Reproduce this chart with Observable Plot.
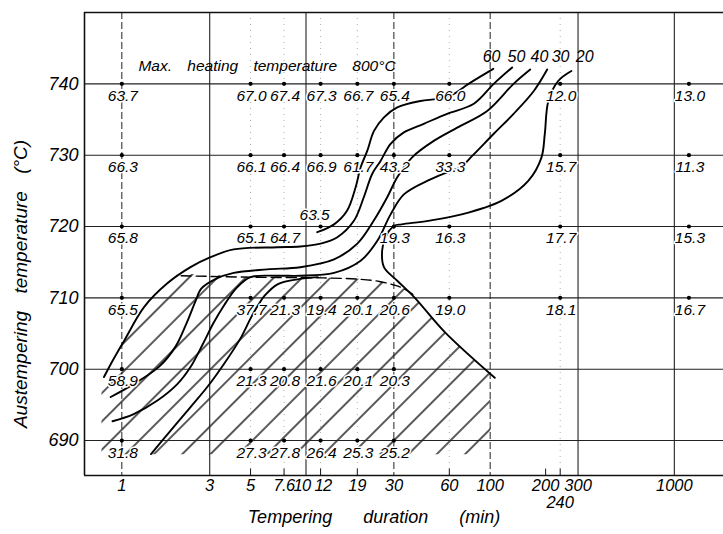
<!DOCTYPE html>
<html><head><meta charset="utf-8">
<script src="https://cdn.jsdelivr.net/npm/d3@7"></script>
<script src="https://cdn.jsdelivr.net/npm/@observablehq/plot@0.6"></script>
<style>
html,body{margin:0;padding:0;background:#fff;}
</style>
</head><body><div id="chart"></div>
<script>
// ---- data ----
const durations = [1, 5, 7.6, 12, 19, 30, 60, 240, 1200];
const temperatures = [740, 730, 720, 710, 700, 690];
const values740 = [63.7, 67.0, 67.4, 67.3, 66.7, 65.4, 66.0, 12.0, 13.0];
const values730 = [66.3, 66.1, 66.4, 66.9, 61.7, 43.2, 33.3, 15.7, 11.3];
const values720 = [65.8, 65.1, 64.7, 63.5, null, 19.3, 16.3, 17.7, 15.3];
const values710 = [65.5, 37.7, 21.3, 19.4, 20.1, 20.6, 19.0, 18.1, 16.7];
const values700 = [58.9, 21.3, 20.8, 21.6, 20.1, 20.3, null, null, null];
const values690 = [31.8, 27.3, 27.8, 26.4, 25.3, 25.2, null, null, null];
const labelAboveValue = [63.5];

const yTicks = [690, 700, 710, 720, 730, 740];
const xTickValues = [1, 3, 5, 7.6, 10, 12, 19, 30, 60, 100, 200, 300, 1000];
const xTickLabels = ["1", "3", "5", "7.6", "10", "12", "19", "30", "60", "100", "200", "300", "1000"];
const xTickSecondRow = [240];
const minorTicks = [5, 7.6, 12, 19, 60, 200, 240];
const solidGrid = [3, 10, 300, 1000];
const dashedGrid = [1, 30, 100];
const dottedGrid = [5, 7.6, 12, 19, 60, 240];

const contourNames = ["60", "50", "40", "30", "20"];
const contourLabelX = [101.7, 139, 185, 241, 326];
const contourLabelY = 743.8;

const curve60 = [[11.5,719.2],[14.2,720.3],[16.7,722.2],[18.6,725.5],[19.8,728.3],[21.5,730.6],[23.4,733.4],[26.5,735.3],[31.3,736.7],[41.9,737.6],[51.5,737.9],[62.4,738.5],[76.3,740],[104,742.1]];
const curve50 = [[0.80,698.9],[0.87,700.7],[1.03,704],[1.32,708.7],[1.76,712],[2.36,714.3],[3.03,715.7],[4.05,716.8],[6.98,717.1],[9.3,717.2],[12.0,717.6],[14.8,718.5],[18.2,720.8],[20.6,724.1],[22.9,727.4],[25.4,729.2],[28.8,731.6],[34,733.2],[43.6,734.4],[58.4,735.8],[81.5,737.2],[104.6,740],[131.7,742.3]];
const curve40 = [[0.87,696.1],[1.14,697.8],[1.6,700.4],[1.96,703.2],[2.25,706.5],[2.5,709.4],[2.7,711.3],[3.2,712.6],[4.05,713.5],[6.15,714],[9.3,714.3],[14.2,715.4],[19,717.6],[23.3,720.8],[27.6,724.1],[31.3,726.9],[37.7,729.7],[49.4,732],[69,734.1],[96.3,736.2],[134,740],[165,742]];
const curve30 = [[0.89,692.7],[1.16,693.7],[1.56,695.6],[2.0,697.9],[2.36,700.3],[2.75,703.5],[3.15,706.5],[3.6,709],[4.2,711.4],[5.0,712.9],[7,713.1],[9.3,713.1],[14.2,713.5],[19.8,715.2],[24.4,718],[28.8,721.7],[34,724.5],[45.5,726.4],[58.4,727.6],[69,728.3],[79.9,729.9],[104.6,733],[134,735.8],[172.6,739],[204,742]];
const curve30b = [[1.44,688.1],[1.84,691.4],[2.36,694.7],[2.91,697.5],[3.6,700.8],[4.45,704.5],[5.04,707.3],[5.5,709],[5.96,710.3],[7,711.9],[9,712.6],[11.6,712.9]];
const curve20 = [[276,741.8],[234,740.4],[207,737.6],[198,733],[190,729.7],[161,726.4],[115,723.6],[70,721.7],[46,720.8],[33,720.3],[30.2,720.1],[27,718.5],[25.9,716.6],[26.5,714.3],[31.3,712.4],[39,710],[56.7,705.2],[105.9,698.8]];
const boundaryDashed = [[2.1,713.1],[4.9,712.9],[12.4,712.8],[19.7,712.6],[25,712.3],[30,711.8],[34,711.3],[38,710.5]];
const hatchTop = [[0.78,698.4],[0.87,700.7],[1.03,704],[1.32,708.7],[1.76,712],[2.1,713.1],[4.9,712.9],[12.4,712.8],[19.7,712.6],[25,712.3],[30,711.8],[34,711.3],[39,710],[56.7,705.2],[101,699.2]];
const hatchBottom = 688;

const titleText = "Max. heating temperature 800°C";
const titlePos = [1.23, 742.5];
const xTitle = "Tempering duration (min)";
const yTitle = "Austempering temperature (°C)";

// ---- build tables ----
const rows = [values740, values730, values720, values710, values700, values690];
const points = [];
rows.forEach((vals, i) => vals.forEach((v, j) => {
  if (v != null) points.push({x: durations[j], y: temperatures[i], v, label: v.toFixed(1)});
}));
const below = points.filter(d => !labelAboveValue.includes(d.v));
const above = points.filter(d => labelAboveValue.includes(d.v));

const curveSets = {c60: curve60, c50: curve50, c40: curve40, c30: curve30, c30b: curve30b, c20: curve20};
const curves = [];
for (const [name, pts] of Object.entries(curveSets)) pts.forEach(([x, y]) => curves.push({name, x, y}));

const xTicks = xTickValues.map((v, i) => ({v, label: xTickLabels[i]}));
const crowdedLeft = xTicks.filter(d => d.v === 10);
const crowdedRight = xTicks.filter(d => d.v === 12);
const regularTicks = xTicks.filter(d => d.v !== 10 && d.v !== 12);

const xDomain = [0.627, 1849];
const yDomain = [685.1, 750];
const FONT = "Liberation Sans, Arial, sans-serif";
const tickStyle = {y: () => yDomain[0], text: "label", frameAnchor: "bottom", dy: 15, fontSize: 16.5, fill: "#000"};

const svg = Plot.plot({
  width: 723, height: 534,
  marginLeft: 84, marginRight: 0, marginTop: 12, marginBottom: 59,
  x: {type: "log", domain: xDomain, axis: null},
  y: {domain: yDomain, axis: null},
  style: {fontFamily: FONT, fontStyle: "italic", background: "white", overflow: "visible", color: "#111"},
  marks: [
    Plot.areaY(hatchTop, {x: d => d[0], y1: () => hatchBottom, y2: d => d[1], fill: "url(#hatch)", curve: "catmull-rom"}),
    Plot.ruleX(dottedGrid, {stroke: "#666", strokeWidth: 0.9, strokeDasharray: "1,5", strokeOpacity: 0.6}),
    Plot.ruleX(dashedGrid, {stroke: "#222", strokeWidth: 1, strokeDasharray: "7,3"}),
    Plot.ruleX(solidGrid, {stroke: "#222", strokeWidth: 1.1}),
    Plot.ruleY(yTicks, {stroke: "#222", strokeWidth: 1.1}),
    Plot.ruleY(yDomain, {stroke: "#111", strokeWidth: 1.6}),
    Plot.ruleX([xDomain[0]], {stroke: "#111", strokeWidth: 1.6}),
    Plot.ruleX(minorTicks, {y1: yDomain[0], y2: yDomain[0] + 0.9, stroke: "#111", strokeWidth: 1}),
    Plot.line(curves, {x: "x", y: "y", z: "name", stroke: "#000", strokeWidth: 1.9, curve: "catmull-rom"}),
    Plot.line(boundaryDashed, {x: d => d[0], y: d => d[1], stroke: "#000", strokeWidth: 1.4, strokeDasharray: "10,5", curve: "catmull-rom"}),
    Plot.dot(points, {x: "x", y: "y", r: 2.1, fill: "#000"}),
    Plot.text(below, {x: "x", y: "y", text: "label", dy: 12, dx: 1, fontSize: 15.5, fill: "#000", stroke: "white", strokeWidth: 3, paintOrder: "stroke"}),
    Plot.text(above, {x: "x", y: "y", text: "label", dy: -11, dx: -6, fontSize: 15.5, fill: "#000", stroke: "white", strokeWidth: 3, paintOrder: "stroke"}),
    Plot.text(contourNames, {x: (d, i) => contourLabelX[i], y: () => contourLabelY, text: d => d, fontSize: 16, fill: "#000"}),
    Plot.text([titleText], {x: () => titlePos[0], y: () => titlePos[1], text: d => d, textAnchor: "start", fontSize: 15.5, fill: "#000"}),
    Plot.text(yTicks, {y: d => d, text: d => String(d), frameAnchor: "left", textAnchor: "end", dx: -6, fontSize: 18, fill: "#000"}),
    Plot.text(regularTicks, {x: "v", ...tickStyle}),
    Plot.text(crowdedLeft, {x: "v", ...tickStyle, dx: -4}),
    Plot.text(crowdedRight, {x: "v", ...tickStyle, dx: 2.5}),
    Plot.text(xTickSecondRow, {x: d => d, y: () => yDomain[0], text: d => String(d), frameAnchor: "bottom", dy: 32, fontSize: 16.5, fill: "#000"}),
    Plot.text([xTitle], {text: d => d, frameAnchor: "bottom", dy: 47, dx: -30, fontSize: 18, fill: "#000"}),
    Plot.text([yTitle], {text: d => d, frameAnchor: "left", textAnchor: "middle", dx: -64, dy: 40, rotate: -90, fontSize: 19, fill: "#000"})
  ]
});

// hatch pattern
const defs = d3.select(svg).insert("defs", ":first-child");
const pat = defs.append("pattern").attr("id", "hatch").attr("patternUnits", "userSpaceOnUse")
  .attr("width", 20).attr("height", 20).attr("patternTransform", "rotate(45)");
pat.append("line").attr("x1", 10).attr("y1", -2).attr("x2", 10).attr("y2", 22)
  .attr("stroke", "#000").attr("stroke-width", 1.3);

// spacing for titles and crowded tick labels
d3.select(svg).selectAll("text").each(function() {
  const t = this.textContent;
  if (t === xTitle) this.style.wordSpacing = "26px";
  if (t === yTitle) this.style.wordSpacing = "12px";
  if (t === titleText) this.style.wordSpacing = "11px";
  if (t === "7.6" || t === "10" || t === "12") this.style.letterSpacing = "-0.6px";
});
document.getElementById("chart").appendChild(svg);
</script>
</body></html>
